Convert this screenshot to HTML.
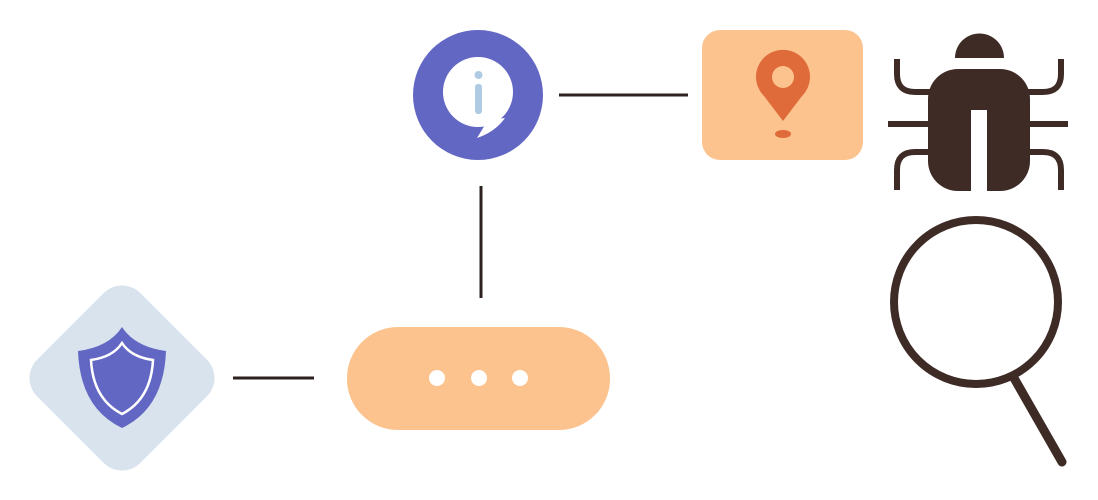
<!DOCTYPE html>
<html><head><meta charset="utf-8"><style>html,body{margin:0;padding:0;background:#fff}svg{display:block}</style></head>
<body>
<svg width="1098" height="500" viewBox="0 0 1098 500" xmlns="http://www.w3.org/2000/svg">
<!-- connectors -->
<g stroke="#2e2220" stroke-width="3">
<line x1="559" y1="95" x2="688" y2="95"/>
<line x1="481" y1="186" x2="481" y2="298"/>
<line x1="233" y1="378" x2="314" y2="378"/>
</g>
<!-- info circle -->
<circle cx="478" cy="95" r="65" fill="#6367c4"/>
<circle cx="478" cy="92" r="35" fill="#fff"/>
<path d="M488 120 L477 138 Q495 132 505 118 Z" fill="#fff"/>
<circle cx="478.5" cy="75" r="4" fill="#aecbe3"/>
<rect x="475" y="84" width="7" height="30" rx="3" fill="#aecbe3"/>
<!-- pin box -->
<rect x="702" y="30" width="161" height="130" rx="18" fill="#fcc38e"/>
<path d="M783 121 L764 96 A27 27 0 1 1 802 96 Z" fill="#e06b3a"/>
<circle cx="783" cy="77" r="11" fill="#fcc38e"/>
<ellipse cx="783" cy="134" rx="8" ry="4" fill="#e06b3a"/>
<!-- pill -->
<rect x="347" y="327" width="263" height="103" rx="51" fill="#fcc38e"/>
<circle cx="437" cy="378" r="8" fill="#fff"/>
<circle cx="479" cy="378" r="8" fill="#fff"/>
<circle cx="520" cy="378" r="8" fill="#fff"/>
<!-- diamond -->
<rect x="49" y="305" width="146" height="146" rx="26" fill="#d8e3ed" transform="rotate(45 122 378)"/>
<path d="M122 327 Q135 347 166 351 Q164 408 122 428 Q80 408 78 351 Q109 347 122 327 Z" fill="#6367c4"/>
<path d="M122 343 Q131 357 153 360 Q151 399 122 414 Q93 399 91 360 Q113 357 122 343 Z" fill="none" stroke="#fff" stroke-width="2.5"/>
<!-- bug -->
<g fill="#3e2b26">
<path d="M955 58 A24.5 24.5 0 0 1 1004 58 Z"/>
<path d="M958 69 H1000 A30 30 0 0 1 1030 99 V161 A30 30 0 0 1 1000 191 H987 V110 H971 V191 H958 A30 30 0 0 1 928 161 V99 A30 30 0 0 1 958 69 Z"/>
</g>
<g stroke="#3e2b26" stroke-width="6" fill="none">
<line x1="888" y1="124" x2="930" y2="124"/>
<line x1="1028" y1="124" x2="1068" y2="124"/>
<path d="M930 92 H915 Q897 92 897 74 V59"/>
<path d="M1028 92 H1043 Q1061 92 1061 74 V59"/>
<path d="M930 152 H915 Q897 152 897 170 V190"/>
<path d="M1028 152 H1043 Q1061 152 1061 170 V190"/>
</g>
<!-- magnifier -->
<circle cx="976" cy="302" r="82" fill="none" stroke="#3e2b26" stroke-width="8"/>
<line x1="1014" y1="378" x2="1062" y2="462" stroke="#3e2b26" stroke-width="9" stroke-linecap="round"/>
</svg>
</body></html>
